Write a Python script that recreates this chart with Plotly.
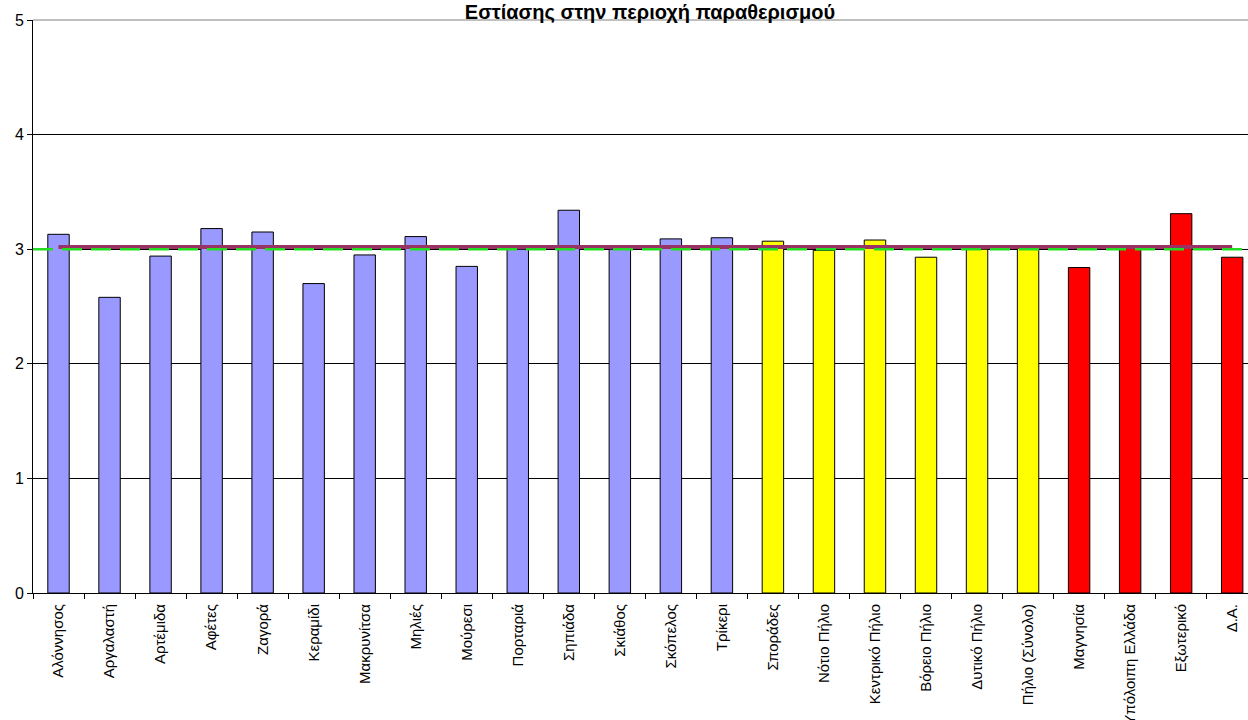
import plotly.graph_objects as go

# Περιοχές / κατηγορίες
categories = ["Αλόννησος", "Αργαλαστή", "Αρτέμιδα", "Αφέτες", "Ζαγορά", "Κεραμίδι",
              "Μακρυνίτσα", "Μηλιές", "Μούρεσι", "Πορταριά", "Σηπιάδα", "Σκιάθος",
              "Σκόπελος", "Τρίκερι", "Σποράδες", "Νότιο Πήλιο", "Κεντρικό Πήλιο",
              "Βόρειο Πήλιο", "Δυτικό Πήλιο", "Πήλιο (Σύνολο)", "Μαγνησία",
              "Υπόλοιπη Ελλάδα", "Εξωτερικό", "Δ.Α."]

values = [3.13, 2.58, 2.94, 3.18, 3.15, 2.70, 2.95, 3.11, 2.85, 3.00, 3.34, 3.00,
          3.09, 3.10, 3.07, 2.99, 3.08, 2.93, 3.00, 3.01, 2.84, 3.01, 3.31, 2.93]

group_colors = ["#9999FF"] * 14 + ["#FFFF00"] * 6 + ["#FF0000"] * 4

mean_value = 3.02      # μέσος όρος (συνεχής γραμμή)
ref_value = 3.0        # τιμή αναφοράς (διακεκομμένη)

fig = go.Figure()

fig.add_trace(go.Bar(x=categories, y=values, width=0.42,
                     marker=dict(color=group_colors, line=dict(color="black", width=1)),
                     showlegend=False))

fig.add_trace(go.Scatter(x=categories, y=[mean_value] * len(categories), mode="lines",
                         line=dict(color="#993366", width=4), showlegend=False))

fig.add_shape(type="line", xref="paper", yref="y", x0=0, x1=1, y0=ref_value, y1=ref_value,
              line=dict(color="#22DD22", width=2.5, dash="20px,9px"))

# πάνω όριο περιοχής σχεδίασης (γκρι)
fig.add_shape(type="line", xref="paper", yref="paper", x0=0, x1=1, y0=1, y1=1,
              line=dict(color="#808080", width=1))

fig.update_layout(
    width=1248, height=720,
    margin=dict(l=33, r=0, t=20, b=127, autoexpand=False),
    plot_bgcolor="white", paper_bgcolor="white",
    font=dict(family="Liberation Sans, Arial, sans-serif", color="black"),
    title=dict(text="<b>Εστίασης στην περιοχή παραθερισμού</b>", x=650 / 1248, xanchor="center",
               y=1 - 12 / 720, yanchor="middle", font=dict(size=20, color="black")),
    bargap=0.58,
)

fig.update_xaxes(range=[-0.5, 23.31], showline=True, linecolor="black", linewidth=1,
                 ticks="outside", tickson="boundaries", ticklen=5, tickcolor="black",
                 tickangle=-90, tickfont=dict(size=15), ticklabelstandoff=4,
                 showgrid=False, automargin=False)

fig.update_yaxes(range=[0, 5], dtick=1, showline=True, linecolor="black", linewidth=1,
                 ticks="outside", ticklen=5, tickcolor="black", tickfont=dict(size=16),
                 showgrid=True, gridcolor="black", gridwidth=1, zeroline=False,
                 automargin=False)

# η σελίδα έχει περιθώριο 8px από προεπιλογή
fig.write_html("out.html", config={"displayModeBar": False},
               post_script="document.body.style.margin='0px';")
